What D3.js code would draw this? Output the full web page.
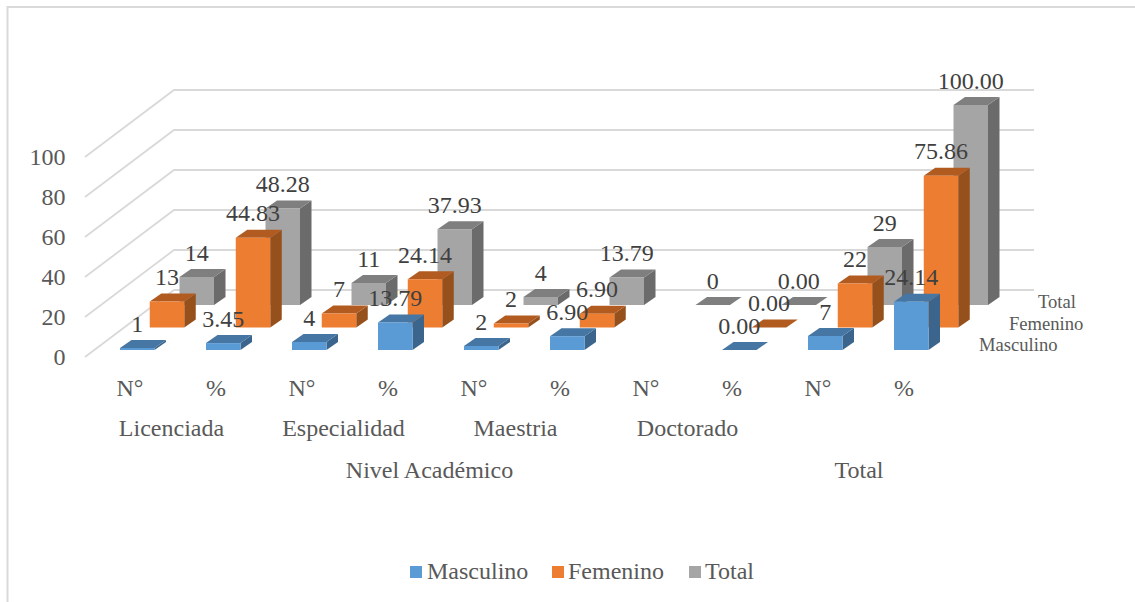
<!DOCTYPE html>
<html>
<head>
<meta charset="utf-8">
<script src="https://cdn.jsdelivr.net/npm/d3@7"></script>
<style>
  html, body { margin: 0; padding: 0; background: #fff; }
  text { font-family: "Liberation Serif", serif; fill: #595959; }
</style>
</head>
<body>
<svg id="chart" width="1135" height="602"></svg>
<script>
// Personnel by academic level and sex: count and share, shown as a 3-D column chart.
const levels = ["Licenciada", "Especialidad", "Maestria", "Doctorado"];
const groups = ["Nivel Académico", "Total"];
const measures = ["N°", "%", "N°", "%", "N°", "%", "N°", "%", "N°", "%"];
const seriesNames = ["Masculino", "Femenino", "Total"];
// null marks an empty cell: no column and no label is drawn for it
const masculino = [1, 3.45, 4, 13.79, 2, 6.90, null, 0.00, 7, 24.14];
const femenino = [13, 44.83, 7, 24.14, 2, 6.90, null, 0.00, 22, 75.86];
const total = [14, 48.28, 11, 37.93, 4, 13.79, 0, 0.00, 29, 100.00];
const labelDigits = [0, 2, 0, 2, 0, 2, 0, 2, 0, 2];
const yTicks = [0, 20, 40, 60, 80, 100];

const seriesValues = [masculino, femenino, total];
const fronts = ["#5B9BD5", "#ED7D31", "#A5A5A5"];
const tops = ["#4676A3", "#B25B20", "#7F7F7F"];
const sides = ["#3B658C", "#95501C", "#6B6B6B"];

const svg = d3.select("#chart");

// Chart area frame: only its top and left edges fall inside the page
svg.append("path").attr("d", "M7.5,602V7H1135")
  .attr("fill", "none").attr("stroke", "#D9D9D9").attr("stroke-width", 2);

// Scales: column position, value height, and the depth offset of each series row
const x = d3.scaleBand().domain(d3.range(10)).range([120, 980]);
const barW = 34.5;
const y = d3.scaleLinear().domain([0, 100]).range([357, 157]);
const h = d3.scaleLinear().domain([0, 100]).range([0, 200]);
const depthX = d3.scaleLinear().domain([0, 2]).range([0, 59.5]);
const depthY = d3.scaleLinear().domain([0, 2]).range([350, 305]);
const capX = 11.5, capY = 8;

// Back wall and left wall gridlines
const backX = 174, frontX = 85, backDy = -67, rightX = 1034;
const grid = svg.append("g").attr("fill", "none").attr("stroke", "#D9D9D9").attr("stroke-width", 1.8);
yTicks.forEach(t => {
  grid.append("path").attr("d", `M${frontX},${y(t)}L${backX},${y(t) + backDy}L${rightX},${y(t) + backDy}`);
});

// Columns, rear series first so the front rows overlap them
const bars = svg.append("g");
[2, 1, 0].forEach(s => {
  const g = bars.append("g");
  seriesValues[s].forEach((v, i) => {
    if (v === null) return;
    const x0 = x(i) + depthX(s), x1 = x0 + barW;
    const yb = depthY(s), yt = yb - h(v);
    g.append("path").attr("fill", sides[s])
      .attr("d", `M${x1},${yt}L${x1 + capX},${yt - capY}L${x1 + capX},${yb - capY}L${x1},${yb}Z`);
    g.append("path").attr("fill", tops[s])
      .attr("d", `M${x0},${yt}L${x0 + capX},${yt - capY}L${x1 + capX},${yt - capY}L${x1},${yt}Z`);
    g.append("rect").attr("x", x0).attr("y", yt).attr("width", barW).attr("height", h(v)).attr("fill", fronts[s]);
  });
});

// Value labels sit above everything
const labelSize = 24;
const labels = svg.append("g").attr("font-size", labelSize).attr("text-anchor", "middle");
[2, 1, 0].forEach(s => {
  seriesValues[s].forEach((v, i) => {
    if (v === null) return;
    labels.append("text")
      .attr("x", x(i) + depthX(s) + barW / 2)
      .attr("y", depthY(s) - h(v) - capY - 8.5)
      .style("fill", "#404040")
      .text(v.toFixed(labelDigits[i]));
  });
});

// Value axis
const axis = d3.axisLeft(y).tickValues(yTicks).tickSize(0).tickPadding(0);
const axisG = svg.append("g").attr("transform", "translate(65.5,0)").call(axis);
axisG.select(".domain").remove();
axisG.selectAll("text").attr("font-size", labelSize).attr("font-family", "Liberation Serif").style("fill", "#595959");

// Multi-level category axis
const axisText = svg.append("g").attr("font-size", labelSize).attr("text-anchor", "middle");
measures.forEach((m, i) => {
  axisText.append("text").attr("x", x(i) + 10).attr("y", 396).text(m);
});
levels.forEach((l, i) => {
  axisText.append("text").attr("x", x(i * 2) + 51.5).attr("y", 436).text(l);
});
axisText.append("text").attr("x", 429.5).attr("y", 478).text(groups[0]);
axisText.append("text").attr("x", 859).attr("y", 478).text(groups[1]);

// Series names along the depth axis
const depthLabels = svg.append("g").attr("font-size", 18.6);
const depthLabelX = [979, 1009, 1038];
const depthLabelY = [351, 330, 308];
seriesNames.forEach((n, s) => {
  depthLabels.append("text").attr("x", depthLabelX[s]).attr("y", depthLabelY[s]).text(n);
});

// Legend
const legendX = [410, 552, 689], legendTextX = [427, 568, 705];
const legend = svg.append("g");
seriesNames.forEach((n, s) => {
  legend.append("rect").attr("x", legendX[s]).attr("y", 566).attr("width", 12).attr("height", 12).attr("fill", fronts[s]);
  legend.append("text").attr("x", legendTextX[s]).attr("y", 579).attr("font-size", 24).text(n);
});
</script>
</body>
</html>
